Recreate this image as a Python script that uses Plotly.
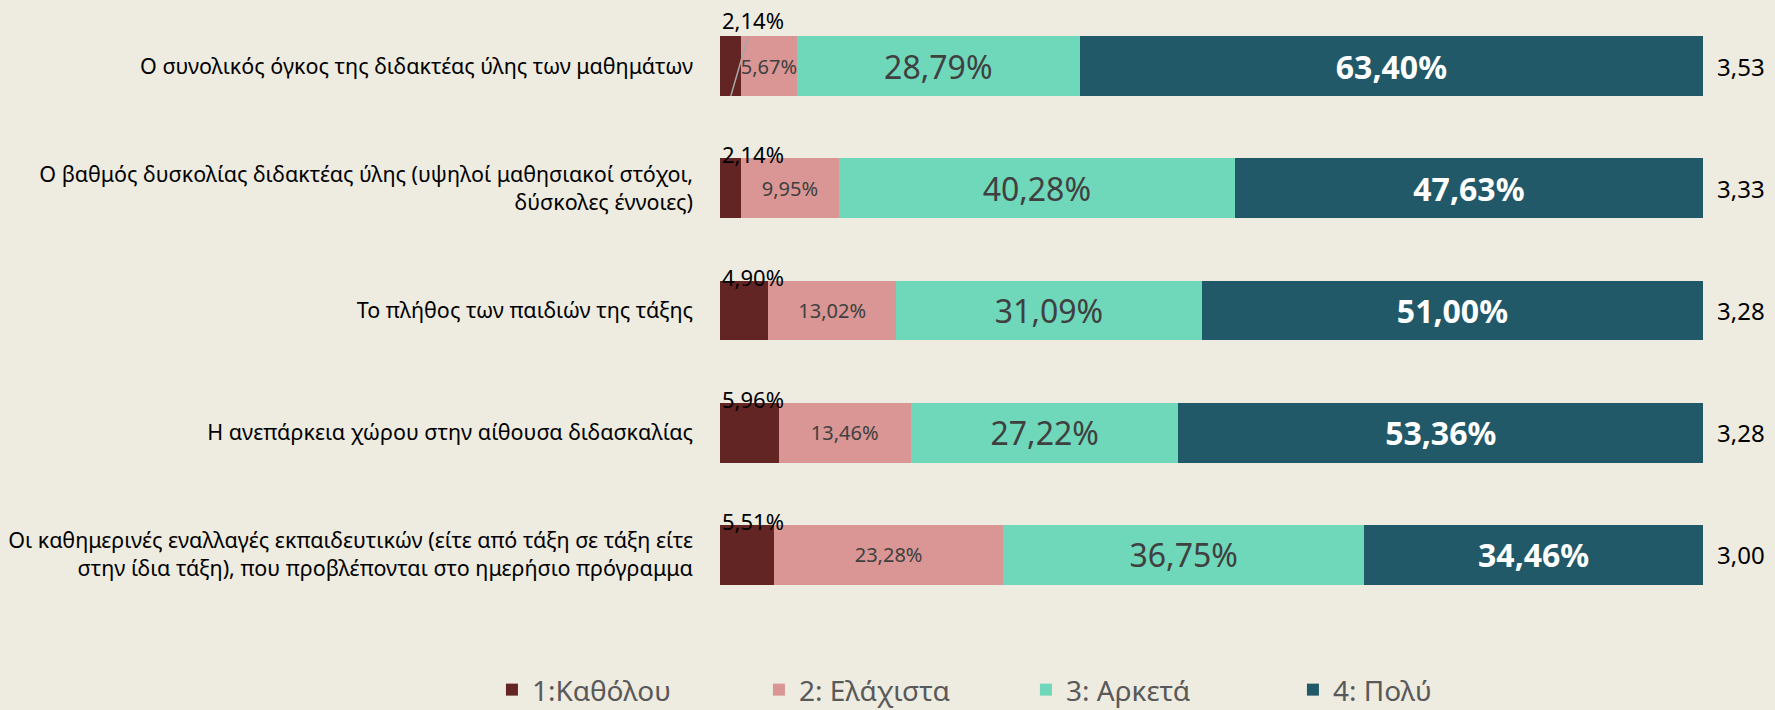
import plotly.graph_objects as go

# survey items (top to bottom)
categories = [
    "Ο συνολικός όγκος της διδακτέας ύλης των μαθημάτων",
    "Ο βαθμός δυσκολίας διδακτέας ύλης (υψηλοί μαθησιακοί στόχοι,<br>δύσκολες έννοιες)",
    "Το πλήθος των παιδιών της τάξης",
    "Η ανεπάρκεια χώρου στην αίθουσα διδασκαλίας",
    "Οι καθημερινές εναλλαγές εκπαιδευτικών (είτε από τάξη σε τάξη είτε<br>στην ίδια τάξη), που προβλέπονται στο ημερήσιο πρόγραμμα",
]

series_names = ["1:Καθόλου", "2: Ελάχιστα", "3: Αρκετά", "4: Πολύ"]
not_at_all = [2.14, 2.14, 4.90, 5.96, 5.51]
minimal = [5.67, 9.95, 13.02, 13.46, 23.28]
enough = [28.79, 40.28, 31.09, 27.22, 36.75]
much = [63.40, 47.63, 51.00, 53.36, 34.46]
means = [3.53, 3.33, 3.28, 3.28, 3.00]

colors = ["#632523", "#D99694", "#6FD8BA", "#215968"]
bg = "#EEEBE0"

fig = go.Figure()

series = [not_at_all, minimal, enough, much]
templates = [None, "%{x:.2f}%", "%{x:.2f}%", "<b>%{x:.2f}%</b>"]
text_fonts = [
    None,
    dict(size=20, color="#404040", family="Noto Sans"),
    dict(size=32, color="#404040", family="Noto Sans"),
    dict(size=32, color="white", family="Noto Sans"),
]

for i, vals in enumerate(series):
    fig.add_trace(go.Bar(
        y=categories,
        x=vals,
        name=series_names[i],
        orientation="h",
        marker=dict(color=colors[i], line=dict(width=0)),
        texttemplate=templates[i],
        textposition="inside" if i > 0 else "none",
        insidetextanchor="middle",
        constraintext="none",
        textangle=0,
        textfont=text_fonts[i],
        hoverinfo="skip",
    ))

# labels of the first series sit above the bars
for i, v in enumerate(not_at_all):
    label = f"{v:.2f}%".replace(".", ",")
    if i == 0:
        fig.add_annotation(
            x=1.1, y=i + 0.245, text=label, showarrow=True,
            arrowhead=0, arrowwidth=1.5, arrowcolor="#A6A6A6",
            ax=22, ay=-76, standoff=0,
            font=dict(size=22, color="black", family="Noto Sans"),
        )
    else:
        fig.add_annotation(
            x=0, y=i, text=label, showarrow=False,
            xanchor="left", xshift=0, yshift=34,
            font=dict(size=22, color="black", family="Noto Sans"),
        )

# mean score to the right of each bar
for i, m in enumerate(means):
    fig.add_annotation(
        x=100, y=i, text=f"{m:.2f}".replace(".", ","), showarrow=False,
        xanchor="left", xshift=12,
        font=dict(size=24, color="black", family="Noto Sans"),
    )

fig.update_layout(
    barmode="stack",
    bargap=0.51,
    width=1775,
    height=710,
    margin=dict(l=720, r=72, t=5, b=94, autoexpand=False),
    paper_bgcolor=bg,
    plot_bgcolor=bg,
    separators=",.",
    font=dict(family="Noto Sans", color="black"),
    showlegend=True,
    legend=dict(
        orientation="h", traceorder="normal",
        x=-0.232, xanchor="left",
        y=-0.121, yanchor="middle",
        entrywidth=222, entrywidthmode="pixels",
        font=dict(size=28, color="#595959", family="Noto Sans"),
        itemclick=False, itemdoubleclick=False,
    ),
    xaxis=dict(range=[0, 100], visible=False, fixedrange=True),
    yaxis=dict(
        autorange="reversed", showgrid=False, zeroline=False,
        showline=False, ticks="", ticklabelstandoff=26, automargin=False,
        tickfont=dict(size=21.5, color="black", family="Noto Sans"),
        fixedrange=True,
    ),
)

fig.write_html(
    "out.html",
    config={"displayModeBar": False},
    post_script="document.body.style.margin='0';",
)
